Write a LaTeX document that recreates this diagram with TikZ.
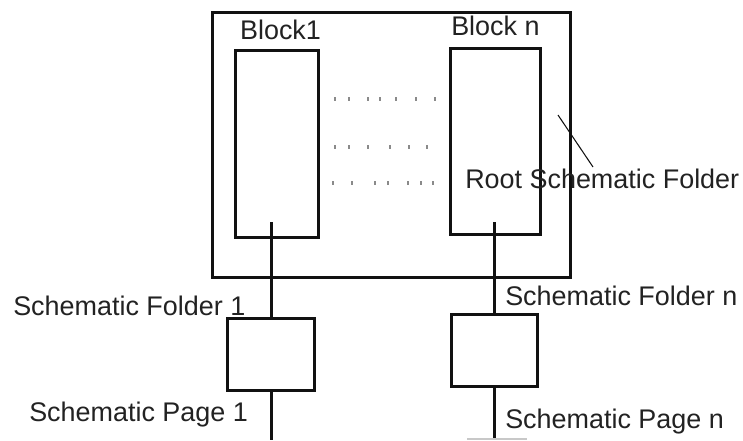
\documentclass[tikz,border=0pt]{standalone}
\usepackage{fontspec}
\setmainfont{Liberation Sans}
\usetikzlibrary{calc}
\definecolor{schInk}{HTML}{111111}
\definecolor{schText}{HTML}{222222}
\definecolor{schDot}{HTML}{8A8A8A}
\definecolor{schPale}{HTML}{C8C8C8}
\tikzset{
  sch frame/.style={draw=schInk, line width=2.25pt, inner sep=0pt},
  sch wire/.style={draw=schInk, line width=2.25pt},
  sch leader/.style={draw=schInk, line width=0.8pt},
  sch dot/.style={fill=schDot, draw=none, minimum width=1.5pt, minimum height=2.6pt, inner sep=0pt},
  sch label/.style={font=\fontsize{20.2}{24}\selectfont, text=schText, inner sep=0pt},
}

\begin{document}
\begin{tikzpicture}[x=0.75pt, y=-0.75pt]
  \useasboundingbox (0,0) rectangle (743,440);

  % Root folder with its two blocks
  \node[sch frame, minimum width=268.5pt, minimum height=198.75pt] (root) at (391,144.5) {};
  \node[sch frame, minimum width=62.25pt, minimum height=140.25pt] (block1) at (276.5,143.5) {};
  \node[sch frame, minimum width=67.5pt, minimum height=139.5pt] (blockn) at (495,141) {};
  \node[sch label, anchor=base] (block1 lbl) at (280.5,39) {Block1};
  \node[sch label, anchor=base west] (blockn lbl) at (451,35) {Block n};

  % Dotted rows between the blocks
  \foreach \x in {335,349,368,380,396,416,435} {
    \node[sch dot] at (\x,99) {};
  }
  \foreach \x in {335,349,368,390,409,427} {
    \node[sch dot] at (\x,147) {};
  }
  \foreach \x in {333,352,375,388,408,421,433} {
    \node[sch dot] at (\x,183) {};
  }

  \node[sch label, anchor=base west] (root lbl) at (465,188) {Root Schematic Folder};
  \coordinate (lead top) at (558,115);
  \coordinate (lead end) at (593,167);
  \draw[sch leader] (lead top) -- (lead end);

  % Left branch: folder 1 and page 1
  \node[sch frame, minimum width=65.25pt, minimum height=54pt] (folder1) at (271,354) {};
  \coordinate (tap1) at (271,222);
  \coordinate (page1) at (271,440);
  \draw[sch wire] (tap1) -- (folder1.north);
  \draw[sch wire] (folder1.south) -- (page1);
  \node[sch label, anchor=base west] (folder1 lbl) at (13,315) {Schematic Folder 1};
  \node[sch label, anchor=base west] (page1 lbl) at (29,421) {Schematic Page 1};

  % Right branch: folder n and page n
  \node[sch frame, minimum width=64.5pt, minimum height=54pt] (foldern) at (494,350) {};
  \coordinate (tapn) at (494,222);
  \coordinate (pagen) at (494,440);
  \draw[sch wire] (tapn) -- (foldern.north);
  \draw[sch wire] (foldern.south) -- (pagen);
  \node[sch label, anchor=base west] (foldern lbl) at (505,305) {Schematic Folder n};
  \node[sch label, anchor=base west] (pagen lbl) at (505,428) {Schematic Page n};
  \draw[draw=schPale, line width=0.8pt] (467,439) -- (527,439);
\end{tikzpicture}
\end{document}
